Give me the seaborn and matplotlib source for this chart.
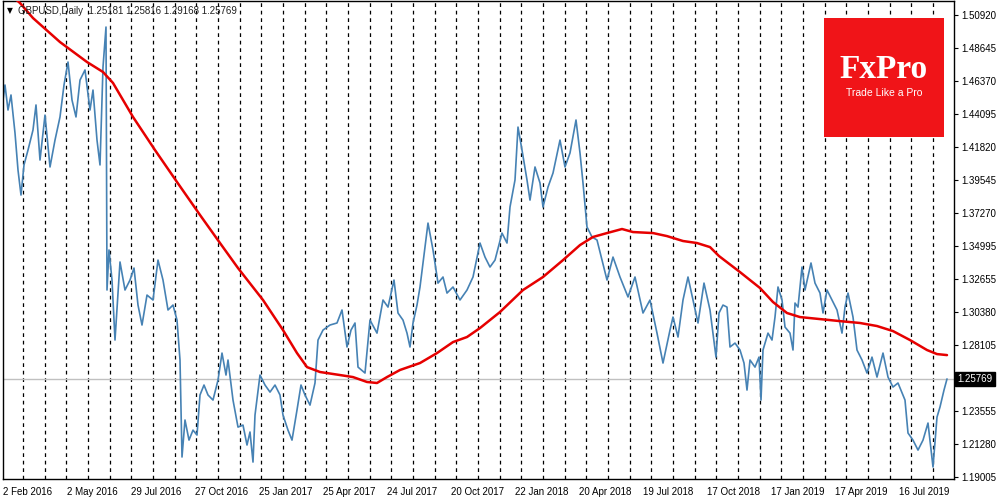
import numpy as np
import pandas as pd
import matplotlib
matplotlib.use("Agg")
import matplotlib.pyplot as plt
import seaborn as sns
from matplotlib.patches import Rectangle

# GBPUSD daily close, sampled (bar number counted from 2 Feb 2016)
price_bars = [0, 2, 5, 8, 12, 15, 18, 21, 25, 30, 33, 37, 42, 47, 52, 57, 61, 65, 69, 73,
              77, 82, 87, 90, 94, 97, 100, 103, 104, 106, 109, 112, 117, 122, 127, 131, 135, 139, 144, 150,
              155, 160, 165, 170, 174, 177, 179, 182, 186, 190, 194, 197, 201, 205, 210, 215, 219, 223, 225, 230,
              235, 240, 244, 247, 250, 252, 257, 262, 267, 272, 277, 280, 285, 289, 294, 298, 302, 307, 312, 315,
              320, 327, 334, 339, 344, 348, 352, 355, 362, 367, 374, 380, 385, 391, 395, 400, 404, 407, 410, 414,
              417, 422, 425, 430, 435, 440, 444, 450, 457, 464, 470, 475, 477, 482, 487, 492, 499, 504, 507, 512,
              515, 519, 524, 527, 532, 537, 540, 545, 550, 557, 562, 567, 573, 577, 580, 584, 589, 594, 599, 604,
              610, 617, 625, 632, 640, 647, 654, 660, 667, 670, 675, 680, 685, 690, 695, 701, 707, 713, 716, 720,
              724, 727, 732, 737, 741, 744, 747, 752, 756, 758, 760, 765, 769, 772, 775, 779, 782, 787, 790, 792,
              795, 799, 802, 808, 812, 817, 820, 824, 829, 834, 839, 842, 845, 850, 854, 859, 864, 869, 874, 880,
              885, 890, 895, 902, 905, 910, 915, 920, 925, 930, 934, 937, 941, 944]
close_prices = [1.4506, 1.4610, 1.4437, 1.4541, 1.4278, 1.4022, 1.3849, 1.4057, 1.4160, 1.4299,
                1.4472, 1.4091, 1.4402, 1.4043, 1.4229, 1.4389, 1.4610, 1.4769, 1.4506, 1.4389,
                1.4644, 1.4714, 1.4437, 1.4575, 1.4229, 1.4057, 1.4734, 1.5011, 1.3192, 1.3469,
                1.3261, 1.2846, 1.3386, 1.3192, 1.3261, 1.3344, 1.3088, 1.2950, 1.3157, 1.3123,
                1.3399, 1.3261, 1.3054, 1.3088, 1.2984, 1.2708, 1.2037, 1.2293, 1.2154, 1.2223,
                1.2189, 1.2466, 1.2535, 1.2466, 1.2431, 1.2569, 1.2756, 1.2604, 1.2708, 1.2431,
                1.2244, 1.2258, 1.2120, 1.2210, 1.2002, 1.2327, 1.2604, 1.2535, 1.2486, 1.2535,
                1.2466, 1.2327, 1.2223, 1.2154, 1.2362, 1.2535, 1.2466, 1.2396, 1.2549, 1.2846,
                1.2915, 1.2950, 1.2964, 1.3054, 1.2798, 1.2915, 1.2964, 1.2659, 1.2618, 1.2984,
                1.2894, 1.3123, 1.3074, 1.3261, 1.3033, 1.2984, 1.2894, 1.2798, 1.2964, 1.3088,
                1.3213, 1.3489, 1.3655, 1.3469, 1.3240, 1.3282, 1.3171, 1.3213, 1.3123, 1.3192,
                1.3282, 1.3448, 1.3517, 1.3420, 1.3351, 1.3399, 1.3586, 1.3517, 1.3766, 1.3953,
                1.4319, 1.4160, 1.3953, 1.3814, 1.4043, 1.3932, 1.3766, 1.3904, 1.4001, 1.4229,
                1.4043, 1.4140, 1.4368, 1.4140, 1.3932, 1.3628, 1.3559, 1.3538, 1.3399, 1.3261,
                1.3420, 1.3282, 1.3144, 1.3282, 1.3033, 1.3123, 1.2894, 1.2687, 1.2915, 1.3005,
                1.2867, 1.3123, 1.3282, 1.3123, 1.2964, 1.3240, 1.3054, 1.2728, 1.3033, 1.3088,
                1.3074, 1.2798, 1.2825, 1.2777, 1.2687, 1.2500, 1.2708, 1.2659, 1.2728, 1.2431,
                1.2777, 1.2894, 1.2846, 1.3005, 1.3213, 1.3123, 1.2936, 1.2894, 1.2777, 1.3102,
                1.3074, 1.3351, 1.3192, 1.3379, 1.3240, 1.3171, 1.3033, 1.3192, 1.3123, 1.3054,
                1.2894, 1.3074, 1.3171, 1.3005, 1.2777, 1.2708, 1.2618, 1.2728, 1.2590, 1.2756,
                1.2590, 1.2521, 1.2549, 1.2431, 1.2203, 1.2154, 1.2085, 1.2154, 1.2272, 1.1968,
                1.2313, 1.2383, 1.2500, 1.2577]

# long moving average (red)
ma_bars = [0, 17, 30, 57, 84, 100, 110, 130, 152, 174, 197, 217, 235, 260, 280, 294, 304, 317,
           337, 350, 364, 374, 384, 397, 417, 434, 450, 464, 477, 497, 520, 540, 560, 577, 590,
           604, 619, 630, 650, 664, 680, 694, 707, 716, 737, 757, 770, 784, 797, 817, 837, 857,
           874, 890, 907, 924, 934, 944]
ma_values = [1.5281, 1.5177, 1.5073, 1.4907, 1.4769, 1.4700, 1.4624, 1.4389, 1.4160, 1.3939,
             1.3711, 1.3517, 1.3344, 1.3123, 1.2915, 1.2756, 1.2659, 1.2625, 1.2604, 1.2590,
             1.2556, 1.2549, 1.2590, 1.2639, 1.2687, 1.2756, 1.2832, 1.2867, 1.2929, 1.3040,
             1.3192, 1.3282, 1.3399, 1.3503, 1.3559, 1.3586, 1.3614, 1.3593, 1.3586, 1.3565,
             1.3531, 1.3517, 1.3489, 1.3427, 1.3316, 1.3206, 1.3109, 1.3033, 1.3005, 1.2991,
             1.2977, 1.2964, 1.2943, 1.2908, 1.2846, 1.2777, 1.2749, 1.2742]

date_ticks = [0, 64, 128, 192, 256, 320, 384, 448, 512, 576, 640, 704, 768, 832, 896]
date_labels = ["2 Feb 2016", "2 May 2016", "29 Jul 2016", "27 Oct 2016", "25 Jan 2017",
               "25 Apr 2017", "24 Jul 2017", "20 Oct 2017", "22 Jan 2018", "20 Apr 2018",
               "19 Jul 2018", "17 Oct 2018", "17 Jan 2019", "17 Apr 2019", "16 Jul 2019"]
price_ticks = [1.50920, 1.48645, 1.46370, 1.44095, 1.41820, 1.39545, 1.37270, 1.34995,
               1.32655, 1.30380, 1.28105, 1.23555, 1.21280, 1.19005]
last_close = 1.25769
header = "GBPUSD,Daily  1.25181 1.25816 1.29168 1.25769"

sns.set_style("white")
plt.rcParams["font.family"] = ["Liberation Sans", "DejaVu Sans"]

fig = plt.figure(figsize=(10, 5), dpi=100)
ax = fig.add_axes([0.003, 0.042, 0.951, 0.956])

# vertical dashed grid
for gx in np.linspace(20, 930, 43):
    ax.axvline(gx, color="black", lw=0.9, ls=(0, (3, 3)), zorder=0)

ax.axhline(last_close, color="#c0c0c0", lw=1, zorder=1)

price_df = pd.DataFrame({"bar": price_bars, "close": close_prices})
ma_df = pd.DataFrame({"bar": ma_bars, "ma": ma_values})
sns.lineplot(data=price_df, x="bar", y="close", ax=ax, color="#4682b4", lw=1.2,
             estimator=None, sort=False, zorder=2)
sns.lineplot(data=ma_df, x="bar", y="ma", ax=ax, color="#e60000", lw=1.8,
             estimator=None, sort=False, zorder=3)

ax.set_xlim(0, 951)
ax.set_ylim(1.1885, 1.5191)
ax.set_xlabel("")
ax.set_ylabel("")

ax.yaxis.tick_right()
ax.set_yticks(price_ticks)
ax.set_yticklabels([f"{v:.5f}" for v in price_ticks])
ax.set_xticks(date_ticks)
ax.set_xticklabels(date_labels, ha="left")
ax.tick_params(axis="both", direction="out", length=3, width=0.8, colors="black",
               labelsize=7, pad=2)
ax.tick_params(axis="x", pad=3)
ax.tick_params(axis="y", pad=2)

for s in ax.spines.values():
    s.set_visible(True)
    s.set_color("black")
    s.set_linewidth(1)

# current price marker on the scale
ax.text(1.0035, last_close, f"{last_close:.5f}", transform=ax.get_yaxis_transform(),
        ha="left", va="center", fontsize=7, color="white",
        bbox=dict(boxstyle="square,pad=0.25", fc="black", ec="black"))

# header
fig.text(0.007, 0.979, "\u25bc", fontsize=5.5, color="black", family="DejaVu Sans",
         va="center")
fig.text(0.018, 0.979, header, fontsize=7, color="#202020", va="center")

# FxPro logo
fig.add_artist(Rectangle((0.824, 0.726), 0.120, 0.238, transform=fig.transFigure,
                         facecolor="#f01418", edgecolor="none", zorder=5))
fig.text(0.884, 0.862, "FxPro", fontsize=24, color="white", family="Liberation Serif",
         fontweight="bold", ha="center", va="center", zorder=6)
fig.text(0.884, 0.815, "Trade Like a Pro", fontsize=7.5, color="white",
         ha="center", va="center", zorder=6)

fig.savefig("out.png", dpi=100)
